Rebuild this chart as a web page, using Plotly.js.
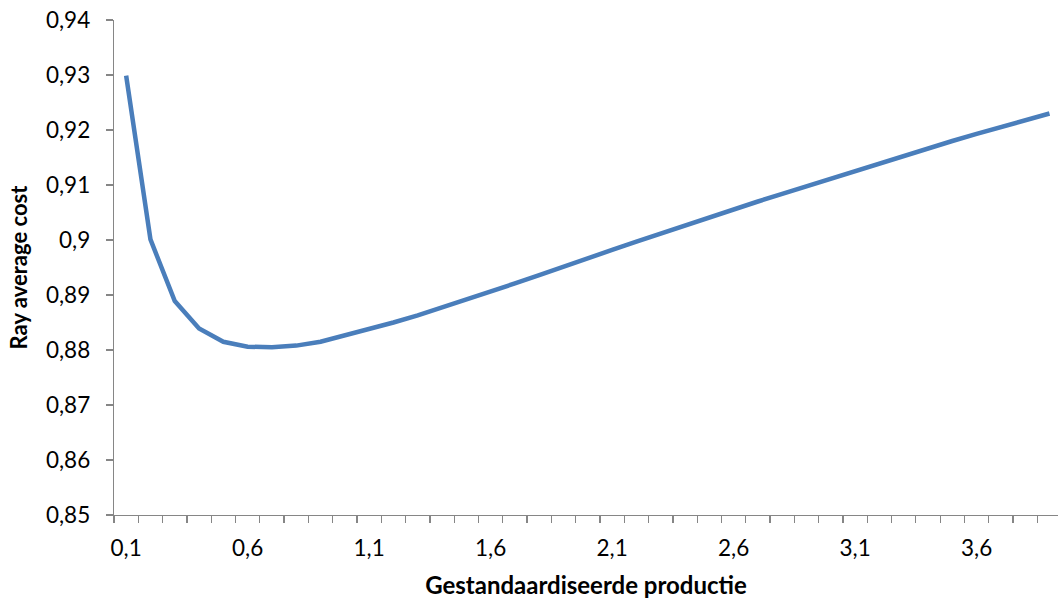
<!DOCTYPE html>
<html>
<head>
<meta charset="utf-8">
<script src="https://cdn.plot.ly/plotly-3.0.1.min.js"></script>
<style>
  html, body { margin: 0; padding: 0; background: #ffffff; }
  #chart { width: 1058px; height: 601px; }
</style>
</head>
<body>
<div id="chart"></div>
<script>
// Categories (gestandaardiseerde productie)
var production = [0.1, 0.2, 0.3, 0.4, 0.5, 0.6, 0.7, 0.8, 0.9, 1.0,
                  1.1, 1.2, 1.3, 1.4, 1.5, 1.6, 1.7, 1.8, 1.9, 2.0,
                  2.1, 2.2, 2.3, 2.4, 2.5, 2.6, 2.7, 2.8, 2.9, 3.0,
                  3.1, 3.2, 3.3, 3.4, 3.5, 3.6, 3.7, 3.8, 3.9];

// Ray average cost values
var rayAverageCost = [0.9299, 0.9001, 0.8889, 0.8839, 0.8815, 0.8806, 0.8805, 0.8808, 0.8815, 0.8826,
                      0.8838, 0.8850, 0.8863, 0.8877, 0.8891, 0.8906, 0.8921, 0.8936, 0.8952, 0.8967,
                      0.8982, 0.8997, 0.9012, 0.9027, 0.9041, 0.9056, 0.9070, 0.9084, 0.9098, 0.9112,
                      0.9126, 0.9140, 0.9153, 0.9167, 0.9180, 0.9193, 0.9205, 0.9218, 0.9230];

// Tick labels
var xTickValues = [0.1, 0.6, 1.1, 1.6, 2.1, 2.6, 3.1, 3.6];
var xTickLabels = ["0,1", "0,6", "1,1", "1,6", "2,1", "2,6", "3,1", "3,6"];
var yTickValues = [0.85, 0.86, 0.87, 0.88, 0.89, 0.90, 0.91, 0.92, 0.93, 0.94];
var yTickLabels = ["0,85", "0,86", "0,87", "0,88", "0,89", "0,9", "0,91", "0,92", "0,93", "0,94"];

var axisColor = "#868686";
var fontFamily = "Lato, 'Open Sans', sans-serif";

var trace = {
  x: production,
  y: rayAverageCost,
  type: "scatter",
  mode: "lines",
  line: { color: "#4a7ebb", width: 4.5 },
  hoverinfo: "x+y"
};

var layout = {
  width: 1058,
  height: 601,
  margin: { l: 114, r: 0, t: 20, b: 86 },
  paper_bgcolor: "#ffffff",
  plot_bgcolor: "#ffffff",
  showlegend: false,
  font: { family: fontFamily, color: "#000000", size: 22 },
  xaxis: {
    type: "linear",
    range: [0.05, 3.935],
    showgrid: false,
    zeroline: false,
    showline: true,
    linecolor: axisColor,
    linewidth: 1.3,
    tickmode: "array",
    tickvals: xTickValues,
    ticktext: xTickLabels,
    ticks: "",
    ticklabelstandoff: 13,
    tickfont: { family: fontFamily, size: 22.5, color: "#000000" },
    minor: {
      tickmode: "linear",
      tick0: 0.05,
      dtick: 0.1,
      ticks: "outside",
      ticklen: 7,
      tickwidth: 1.3,
      tickcolor: axisColor,
      showgrid: false
    },
    title: {
      text: "<b>Gestandaardiseerde productie</b>",
      font: { family: fontFamily, size: 24, color: "#000000" },
      standoff: 17
    }
  },
  yaxis: {
    range: [0.85, 0.94],
    showgrid: false,
    zeroline: false,
    showline: true,
    linecolor: axisColor,
    linewidth: 1.3,
    tickmode: "array",
    tickvals: yTickValues,
    ticktext: yTickLabels,
    ticks: "outside",
    ticklen: 7,
    tickwidth: 1.3,
    tickcolor: axisColor,
    ticklabelstandoff: 11,
    tickfont: { family: fontFamily, size: 22.5, color: "#000000" },
    title: {
      text: "<b>Ray average cost</b>",
      font: { family: fontFamily, size: 22, color: "#000000" },
      standoff: 12
    }
  }
};

Plotly.newPlot("chart", [trace], layout, { displayModeBar: false, staticPlot: true });
</script>
</body>
</html>
